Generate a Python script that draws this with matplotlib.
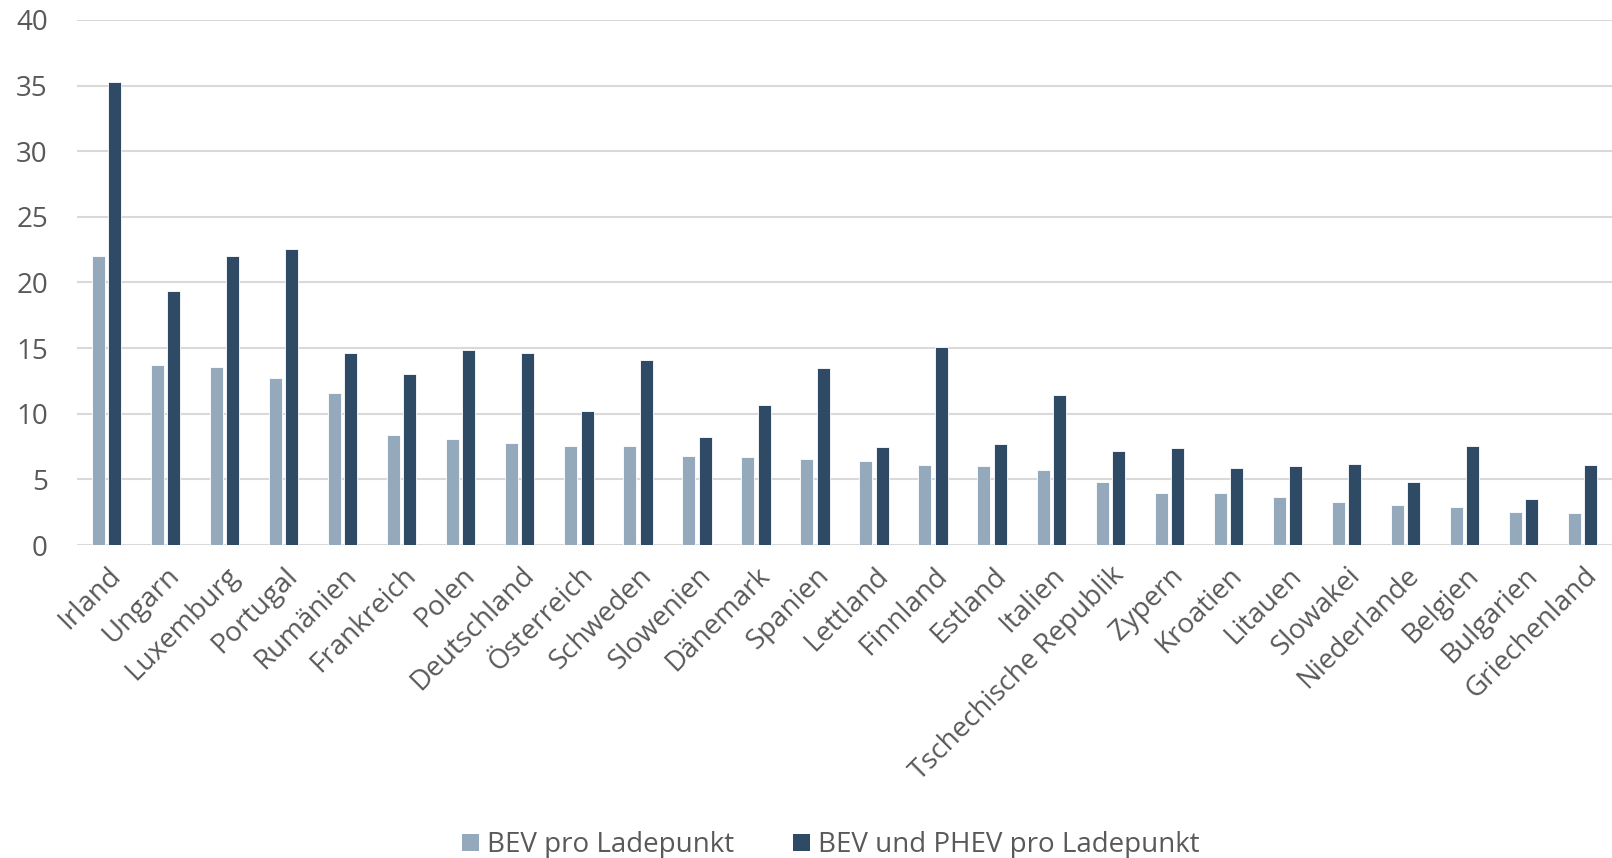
import matplotlib
matplotlib.use("Agg")
import matplotlib.pyplot as plt
import numpy as np
from matplotlib.patches import Patch

countries = ["Irland", "Ungarn", "Luxemburg", "Portugal", "Rumänien", "Frankreich", "Polen",
             "Deutschland", "Österreich", "Schweden", "Slowenien", "Dänemark", "Spanien",
             "Lettland", "Finnland", "Estland", "Italien", "Tschechische Republik", "Zypern",
             "Kroatien", "Litauen", "Slowakei", "Niederlande", "Belgien", "Bulgarien",
             "Griechenland"]
bev = [22.0, 13.7, 13.55, 12.75, 11.6, 8.38, 8.05, 7.8, 7.56, 7.54, 6.8, 6.68, 6.52,
       6.42, 6.12, 6.04, 5.69, 4.82, 3.98, 3.93, 3.63, 3.30, 3.02, 2.87, 2.49, 2.41]
bev_phev = [35.24, 19.32, 21.99, 22.53, 14.64, 13.03, 14.86, 14.61, 10.18, 14.06, 8.25,
            10.63, 13.45, 7.44, 15.05, 7.72, 11.40, 7.16, 7.36, 5.89, 5.99, 6.14, 4.77,
            7.54, 3.48, 6.07]
yticks = [0, 5, 10, 15, 20, 25, 30, 35, 40]
series_names = ["BEV pro Ladepunkt", "BEV und PHEV pro Ladepunkt"]

c_light = "#95A9BD"
c_dark = "#2F4A65"
txt = "#595959"
font = ["Open Sans", "DejaVu Sans"]

fig = plt.figure(figsize=(16.12, 8.58), dpi=100)
ax = fig.add_axes([0.0478, 0.3648, 0.9522, 0.6119])

x = np.arange(len(countries))
w = 0.22
off = 0.138
ax.bar(x - off, bev, width=w, color=c_light, edgecolor="white", linewidth=0.6, zorder=3)
ax.bar(x + off, bev_phev, width=w, color=c_dark, edgecolor="white", linewidth=0.6, zorder=3)

ax.set_xlim(-0.5, len(countries) - 0.5)
ax.set_ylim(0, 40)
ax.set_yticks(yticks)
ax.set_yticklabels([str(v) for v in yticks], fontsize=20, color=txt, family=font)
ax.yaxis.grid(True, color="#D9D9D9", linewidth=1.5, zorder=0)
ax.set_axisbelow(True)
for s in ax.spines.values():
    s.set_visible(False)
ax.tick_params(axis="both", length=0)
ax.tick_params(axis="y", pad=21)

ax.set_xticks(x)
ax.set_xticklabels(countries, rotation=45, ha="right", rotation_mode="anchor",
                   fontsize=20, color=txt, family=font)
ax.tick_params(axis="x", pad=12)

handles = [Patch(facecolor=c_light, edgecolor="none"), Patch(facecolor=c_dark, edgecolor="none")]
leg = fig.legend(handles, series_names, loc="center", bbox_to_anchor=(0.5155, 0.015),
                 ncol=2, frameon=False, handlelength=0.6, handleheight=0.6,
                 handletextpad=0.3, columnspacing=2.1,
                 prop={"family": font, "size": 20})
for t in leg.get_texts():
    t.set_color(txt)

fig.savefig("out.png", dpi=100, facecolor="white")
